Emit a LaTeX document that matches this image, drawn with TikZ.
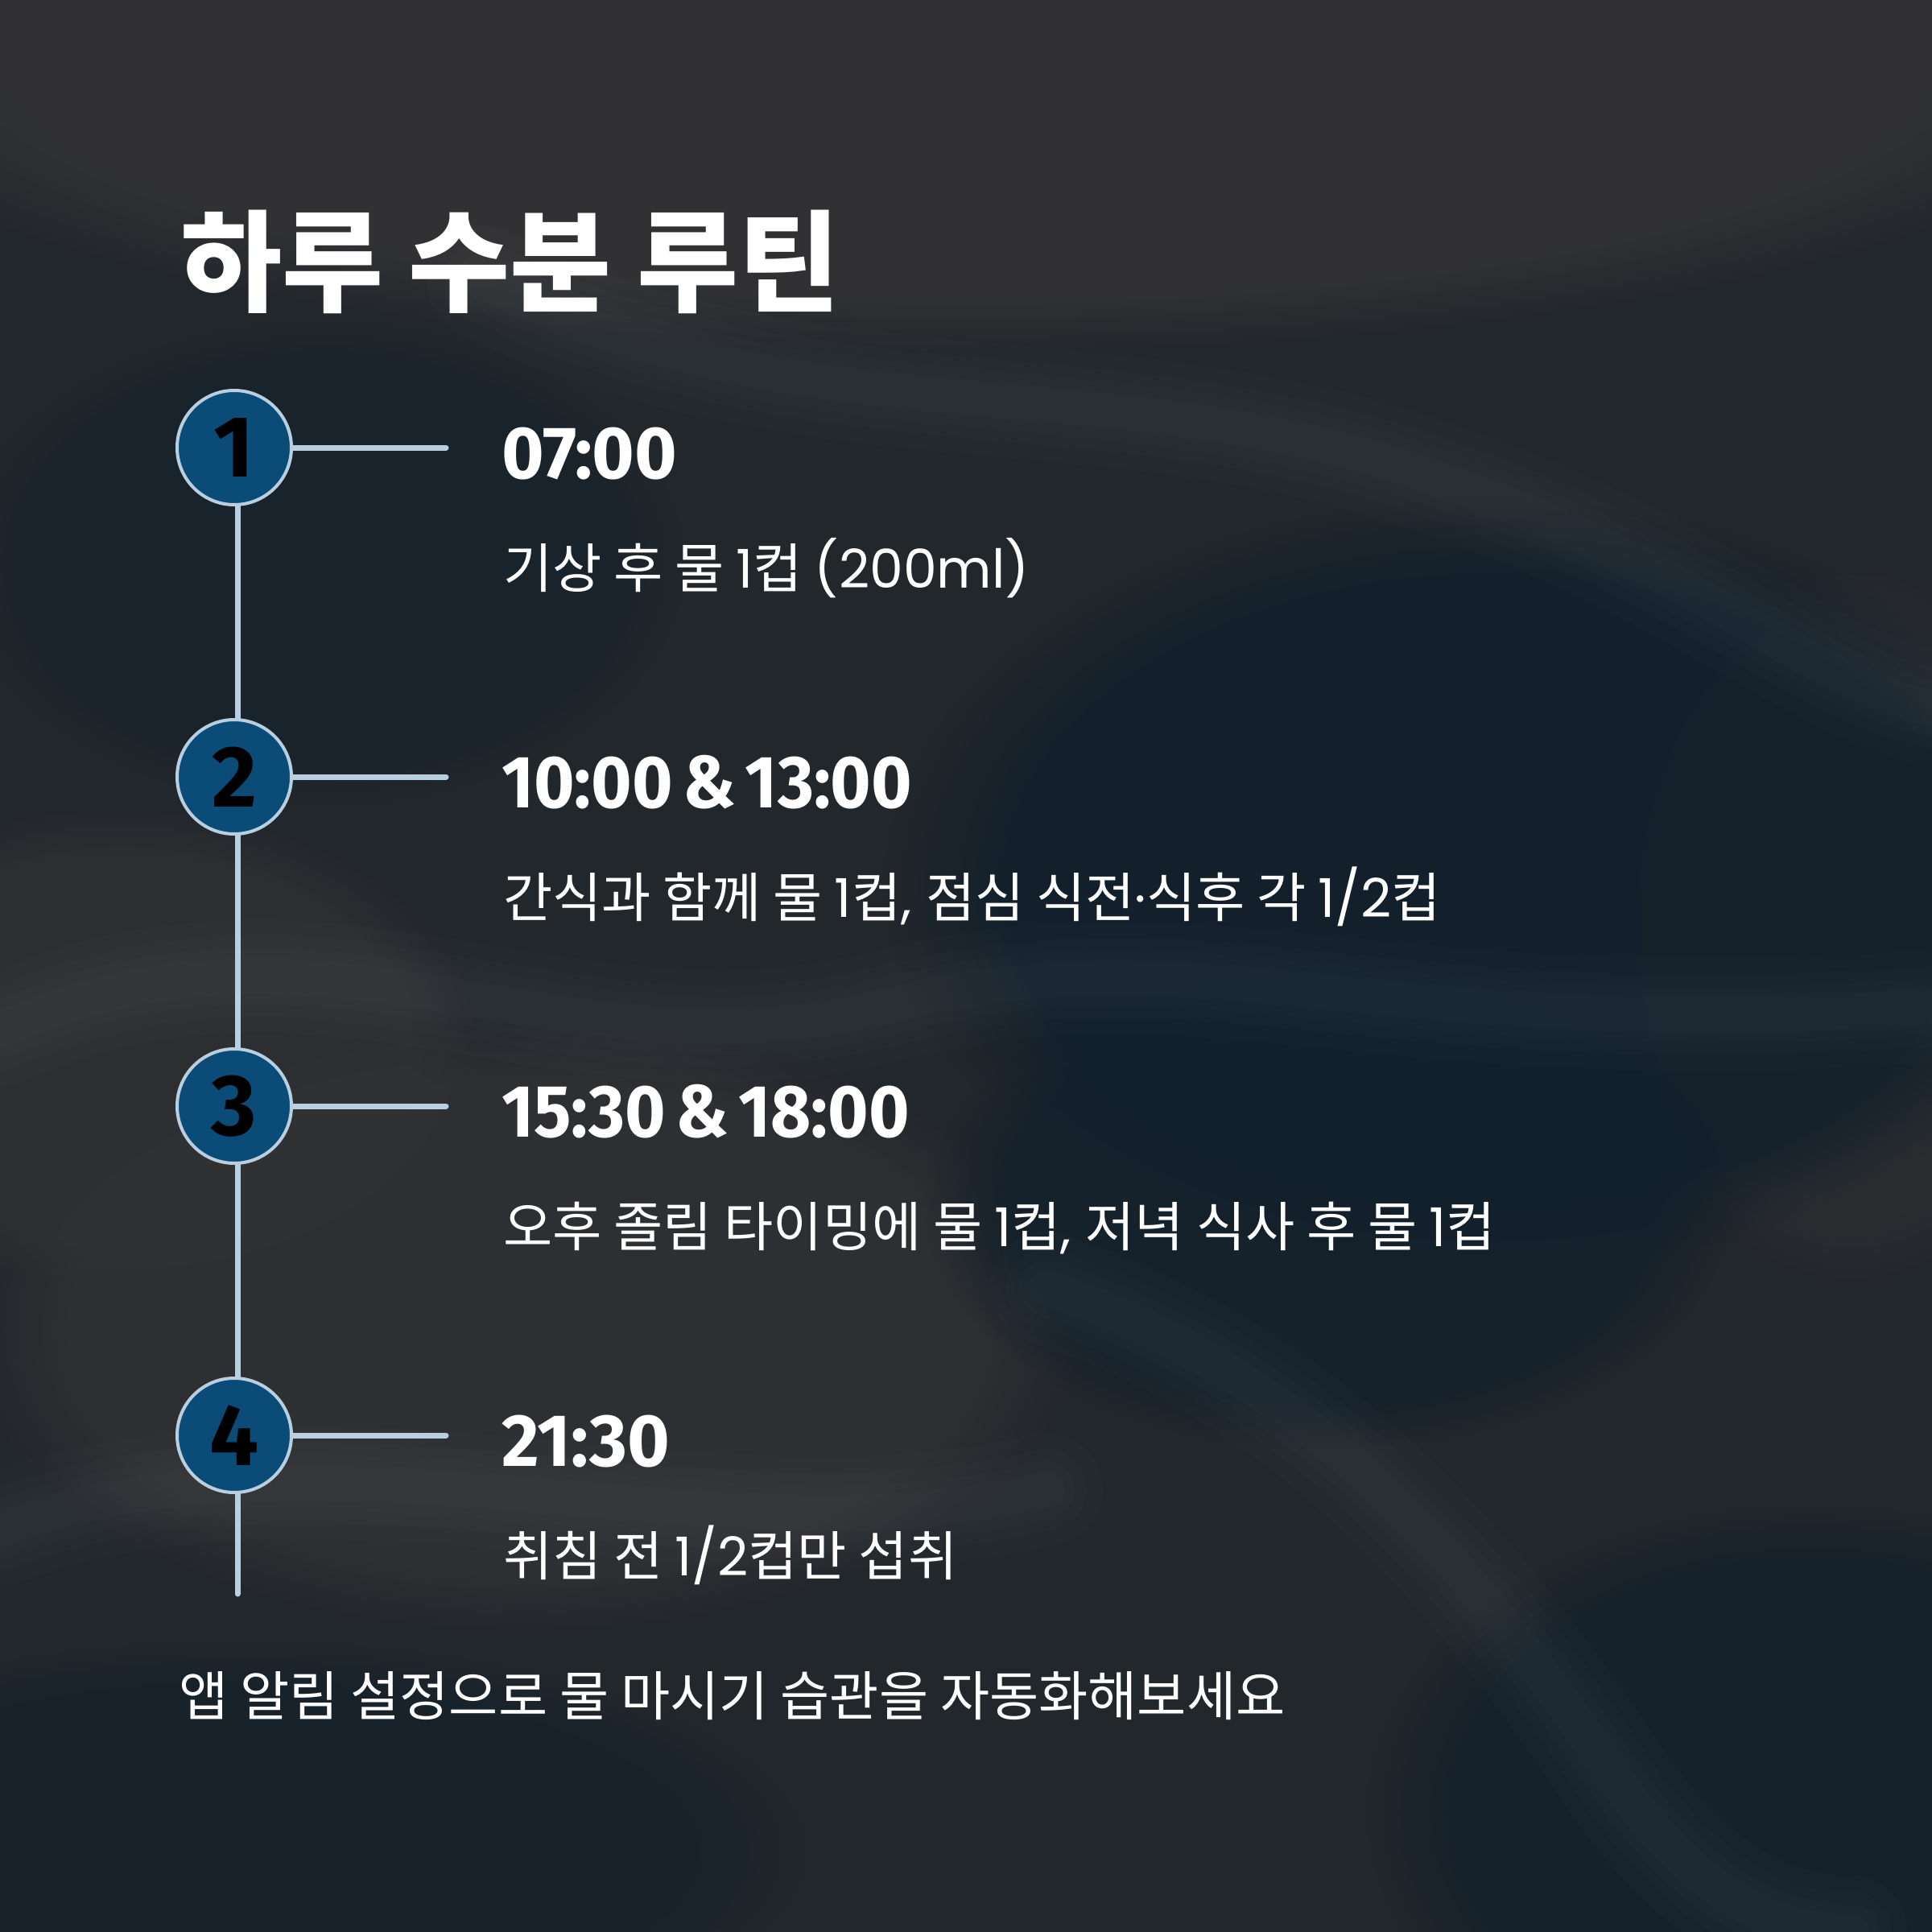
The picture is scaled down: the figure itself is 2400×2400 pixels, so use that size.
\documentclass[tikz,border=0pt]{standalone}
\usepackage{fontspec}
\usetikzlibrary{fadings}
\setmainfont{Poppins}
\newfontfamily\kr{Noto Sans CJK KR}
\newfontfamily\fira{Fira Sans}
\newcommand\K[1]{{\kr #1}}
\newcommand\amp{\hspace{13pt}\&\hspace{13pt}}
\definecolor{bgbase}{HTML}{22272C}
\definecolor{bgcharcoal}{HTML}{333335}
\definecolor{bgnavy}{HTML}{12202B}
\definecolor{linec}{HTML}{B9CFE0}
\definecolor{circfill}{HTML}{0B4B77}
\tikzset{
  stepcircle/.style={circle, draw=linec, line width=4pt, fill=circfill,
    minimum size=142pt, inner sep=0pt,
    font=\fira\bfseries\fontsize{108}{108}\selectfont, text=black},
  link/.style={draw=linec, line width=7pt, line cap=round},
  timetext/.style={anchor=base west, text=white, inner sep=0pt,
    font=\fira\bfseries\fontsize{92}{92}\selectfont},
  desctext/.style={anchor=base west, text=white, inner sep=0pt,
    font=\fontsize{66.5}{66.5}\selectfont},
  titletext/.style={anchor=base west, text=white, inner sep=0pt,
    font=\kr\bfseries\fontsize{137}{137}\selectfont},
  softblob/.style={path fading=circle with fuzzy edge 20 percent},
  ridge/.style={white, opacity=0.011, line cap=round}
}
\begin{document}
\begin{tikzpicture}[x=1pt,y=-1pt]
% background
\useasboundingbox (0,0) rectangle (2400,2400);
\fill[bgbase] (0,0) rectangle (2400,2400);
\begin{scope}
\clip (0,0) rectangle (2400,2400);
\fill[bgcharcoal, softblob, opacity=0.9] (1200,60) ellipse [x radius=1500, y radius=380];
\fill[bgcharcoal, softblob, opacity=0.7] (650,1650) ellipse [x radius=700, y radius=380];
\fill[bgcharcoal, softblob, opacity=0.6] (150,1300) ellipse [x radius=450, y radius=300];
\fill[bgcharcoal, softblob, opacity=0.5] (2300,1150) ellipse [x radius=300, y radius=450];
\fill[bgnavy, softblob, opacity=0.9] (1850,1100) ellipse [x radius=750, y radius=480];
\fill[bgnavy, softblob, opacity=0.8] (1650,1500) ellipse [x radius=500, y radius=300];
\fill[bgnavy, softblob, opacity=0.8] (2250,2250) ellipse [x radius=550, y radius=380];
\fill[bgnavy, softblob, opacity=0.6] (300,2300) ellipse [x radius=700, y radius=260];
\fill[bgnavy, softblob, opacity=0.5] (400,700) ellipse [x radius=450, y radius=300];
% soft silk ridges (layered for a blurred look)
\foreach \w in {140,100,70,45} {
  \draw[ridge, line width=\w pt]
    (0,1280) .. controls (400,1100) and (700,1350) .. (1100,1250)
             .. controls (1500,1150) and (1700,1300) .. (2400,1250);
  \draw[ridge, line width=\w pt]
    (600,350) .. controls (1000,550) and (1400,450) .. (1800,600)
              .. controls (2100,700) and (2250,850) .. (2400,880);
  \draw[ridge, line width=\w pt]
    (1300,1600) .. controls (1600,1700) and (1800,1900) .. (2000,2200)
                .. controls (2100,2350) and (2200,2400) .. (2300,2400);
  \draw[ridge, line width=\w pt]
    (0,1900) .. controls (400,1750) and (900,1950) .. (1300,1850);
}
\end{scope}

% title
\node[titletext] (title) at (224,376) {하루 수분 루틴};

% timeline
\coordinate (vtop) at (295,556);
\coordinate (vend) at (295,1980);
\coordinate (h1) at (554,556);
\coordinate (h2) at (554,965);
\coordinate (h3) at (554,1374);
\coordinate (h4) at (554,1783);
\draw[link] (vtop) -- (vend);
\node[stepcircle] (c1) at (291,556) {1};
\node[stepcircle] (c2) at (291,965) {2};
\node[stepcircle] (c3) at (291,1374) {3};
\node[stepcircle] (c4) at (291,1783) {4};
\draw[link, line cap=butt] (c1.east) -- (h1);
\draw[link] ([xshift=-2pt]h1) -- (h1);
\draw[link, line cap=butt] (c2.east) -- (h2);
\draw[link] ([xshift=-2pt]h2) -- (h2);
\draw[link, line cap=butt] (c3.east) -- (h3);
\draw[link] ([xshift=-2pt]h3) -- (h3);
\draw[link, line cap=butt] (c4.east) -- (h4);
\draw[link] ([xshift=-2pt]h4) -- (h4);

% times
\node[timetext] (t1) at (623,594) {\scalebox{0.98}[1]{07:00}};
\node[timetext] (t2) at (623,1003) {\scalebox{0.94}[1]{10:00\amp 13:00}};
\node[timetext] (t3) at (623,1412) {\scalebox{0.94}[1]{15:30\amp 18:00}};
\node[timetext] (t4) at (623,1821) {\scalebox{0.98}[1]{21:30}};

% descriptions
\node[desctext] (d1) at (625,730) {\K{기상 후 물 }1\K{컵 }(200ml)};
\node[desctext] (d2) at (625,1139) {\K{간식과 함께 물 }1\K{컵}, \K{점심 식전}·\K{식후 각 }1/2\K{컵}};
\node[desctext] (d3) at (625,1548) {\K{오후 졸림 타이밍에 물 }1\K{컵}, \K{저녁 식사 후 물 }1\K{컵}};
\node[desctext] (d4) at (625,1957) {\K{취침 전 }1/2\K{컵만 섭취}};

% footer
\node[desctext] (foot) at (222,2131) {\K{앱 알림 설정으로 물 마시기 습관을 자동화해보세요}};
\end{tikzpicture}
\end{document}
